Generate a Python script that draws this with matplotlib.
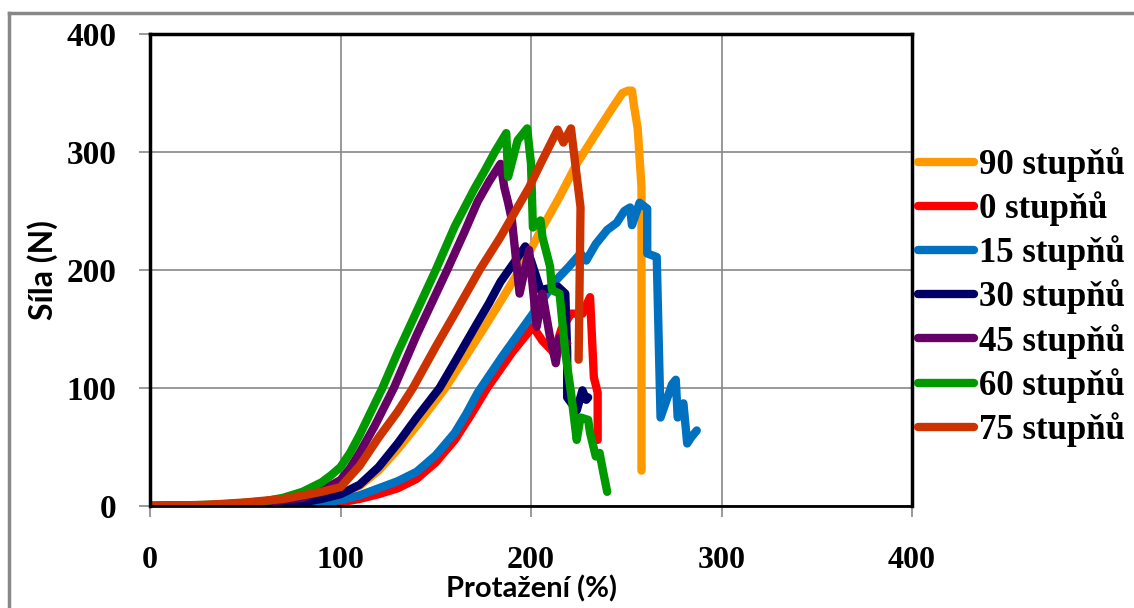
import matplotlib
matplotlib.use('Agg')
import matplotlib.pyplot as plt
from matplotlib.lines import Line2D

# Series data (Protazeni %, Sila N)
x90 = [0, 40, 60, 80, 90, 100, 110, 120, 130, 140, 155, 165, 175, 185, 194, 206, 215, 224, 235, 243,
       248, 251, 253, 254, 256, 258, 258]
y90 = [0, 1, 3, 6, 8, 10, 17, 30, 48, 68, 100, 125, 150, 176, 200, 236, 262, 290, 318, 338,
       350, 352, 352, 340, 320, 270, 30]

x0 = [0, 60, 80, 90, 100, 110, 120, 130, 140, 150, 160, 168, 177, 190, 201, 206, 212, 216, 221, 227,
      231, 233, 235, 235]
y0 = [0, 0.3, 1, 2, 3, 6, 10, 15, 23, 37, 56, 76, 100, 130, 152, 140, 130, 150, 163, 163,
      177, 109, 96, 56]

x15 = [0, 60, 80, 90, 100, 110, 120, 130, 140, 150, 160, 166, 172, 185, 201, 213, 220, 226, 229, 234,
       240, 245, 249, 252, 253, 257, 261, 261, 266, 268, 274, 276, 277, 280, 282, 284, 287]
y15 = [0, 0.5, 1.5, 3, 5, 9, 15, 21, 29, 43, 62, 78, 96, 127, 163, 191, 203, 214, 208, 222,
       234, 240, 250, 253, 238, 257, 252, 214, 211, 75, 103, 107, 75, 87, 53, 58, 64]

x30 = [0, 50, 70, 80, 90, 100, 110, 120, 130, 140, 152, 160, 170, 178, 184, 191, 197, 200, 205, 214,
       218, 219, 219, 224, 227, 229, 230]
y30 = [0, 0.5, 1.5, 3, 6, 10, 18, 33, 53, 75, 100, 122, 150, 172, 190, 206, 220, 208, 183, 186,
       180, 130, 92, 81, 98, 90, 92]

x45 = [0, 40, 60, 80, 90, 100, 105, 110, 118, 128, 140, 156, 165, 172, 178, 184, 186, 188, 190, 194,
       199, 203, 206, 210, 213, 215, 219]
y45 = [0, 1, 3, 7, 13, 22, 32, 45, 68, 100, 145, 200, 232, 258, 275, 290, 270, 257, 242, 180,
       217, 152, 180, 143, 121, 143, 138]

x60 = [0, 20, 40, 60, 70, 80, 90, 95, 100, 105, 110, 116, 122, 130, 140, 150, 160, 170, 176, 181,
       187, 188, 193, 198, 200, 201, 205, 206, 210, 211, 215, 218, 221, 224, 226, 230, 231, 234, 236,
       238, 240]
y60 = [0, 0.5, 1.5, 4, 7, 12, 20, 26, 33, 45, 60, 80, 100, 130, 165, 200, 237, 268, 285, 300,
       316, 279, 310, 320, 290, 236, 242, 228, 203, 183, 180, 130, 96, 56, 75, 73, 62, 42, 45,
       28, 12]

x75 = [0, 30, 50, 70, 80, 90, 100, 110, 120, 130, 138, 150, 160, 173, 184, 199, 205, 214, 217, 221,
       223, 226, 225]
y75 = [0, 1, 3, 6, 9, 12, 16, 34, 58, 80, 100, 135, 163, 200, 228, 270, 290, 319, 308, 320,
       293, 253, 124]

labels = ['90 stupňů', '0 stupňů', '15 stupňů', '30 stupňů', '45 stupňů', '60 stupňů', '75 stupňů']
colors = ['#FF9900', '#FF0000', '#0070C0', '#000066', '#660066', '#009900', '#CC3300']
xs = [x90, x0, x15, x30, x45, x60, x75]
ys = [y90, y0, y15, y30, y45, y60, y75]

W, H = 1134, 608
fig = plt.figure(figsize=(W / 100, H / 100), dpi=100)
ax = fig.add_axes([150 / W, 1 - 506 / H, 762 / W, 472 / H])

for x, y, c, lab in zip(xs, ys, colors, labels):
    ax.plot(x, y, color=c, lw=6, label=lab, solid_capstyle='round', solid_joinstyle='round')

ax.set_xlim(0, 400)
ax.set_ylim(0, 400)
ax.set_xticks([0, 100, 200, 300, 400])
ax.set_yticks([0, 100, 200, 300, 400])
ax.grid(True, color='#888888', lw=1.2)
ax.set_axisbelow(True)

tick_font = {'family': 'Liberation Serif', 'weight': 'bold', 'size': 24}
ax.set_xticklabels(['0', '100', '200', '300', '400'], fontdict=dict(tick_font, size=23))
ax.set_yticklabels(['0', '100', '200', '300', '400'], fontdict=tick_font)
ax.tick_params(axis='x', direction='out', length=8, width=1.2, color='#888888', pad=21)
ax.tick_params(axis='y', direction='out', length=8, width=1.2, color='#888888', pad=16)

for side in ['left', 'top', 'right']:
    ax.spines[side].set_linewidth(2.5)
    ax.spines[side].set_color('black')
ax.spines['bottom'].set_linewidth(2)
ax.spines['bottom'].set_color('black')

ax.set_xlabel('Protažení (%)', family='Lato', weight='bold', fontsize=21, labelpad=0)
ax.set_ylabel('Síla (N)', family='Lato', weight='bold', fontsize=23, labelpad=6)

leg = fig.legend(loc='center left', bbox_to_anchor=(918 / W, 1 - 297 / H), frameon=False,
                 prop={'family': 'Liberation Serif', 'weight': 'bold', 'size': 25},
                 handlelength=1.6, handletextpad=0.15, labelspacing=0.27,
                 borderpad=0, borderaxespad=0)

# outer gray chart border
fig.add_artist(Line2D([9 / W, 9 / W], [0, 1 - 13 / H], color='#888888', lw=2.5, transform=fig.transFigure))
fig.add_artist(Line2D([9 / W, 1], [1 - 13 / H, 1 - 13 / H], color='#888888', lw=2.5, transform=fig.transFigure))

fig.savefig('out.png', dpi=100)
